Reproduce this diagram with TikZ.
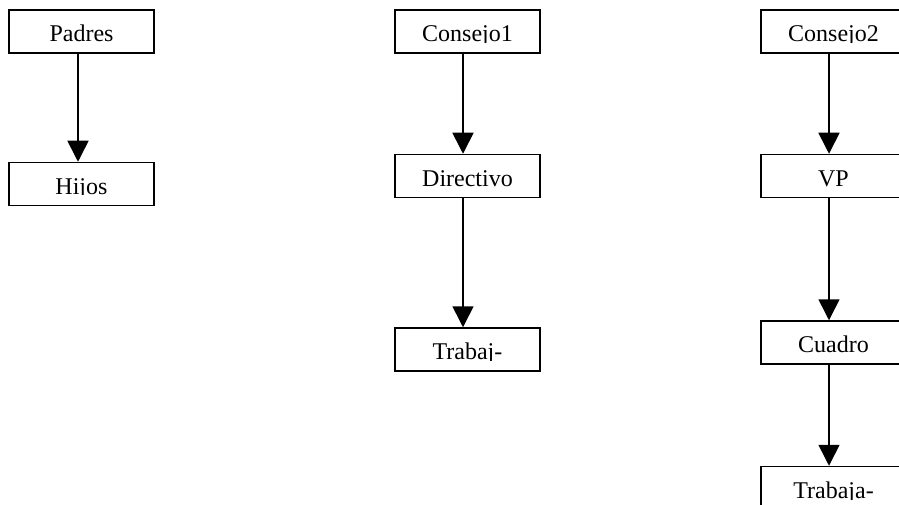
\documentclass[tikz,border=0pt]{standalone}
\usepackage{fontspec}
\setmainfont{Liberation Serif}
\usepackage{tikz}
\usetikzlibrary{positioning, arrows.meta}
\tikzset{flecha/.style={line width=1.6pt, -{Triangle[length=21pt, width=21pt]}}}

\begin{document}
\begin{tikzpicture}[
            x = 1pt, y = -1pt,
            caja/.style={draw, line width=1.5pt, minimum width=145pt, minimum height=43pt, inner sep=0pt,
                path picture={
                    \clip (path picture bounding box.north west) rectangle ([yshift=10.5pt]path picture bounding box.south east);
                    \node[anchor=base, inner sep=0pt, font=\fontsize{24}{28}\selectfont] at ([yshift=11.5pt]path picture bounding box.south) {#1};
                }}
        ]
            \useasboundingbox (0,0) rectangle (899,505);

            \node[caja=Padres] (padres) at (81.5,31.5) {};
            \node[caja=Hijos, below=108pt of padres] (hijos) {};

            \node[caja=Consejo1] (consejo1) at (467.5,31.5) {};
            \node[caja=Directivo, below=100pt of consejo1] (directivo) {};
            \node[caja=Trabaj-, below=129pt of directivo] (trabaj) {};

            \node[caja=Consejo2] (consejo2) at (833.5,31.5) {};
            \node[caja=VP, below=100pt of consejo2] (vp) {};
            \node[caja=Cuadro, below=122pt of vp] (cuadro) {};
            \node[caja=Trabaja-, below=101pt of cuadro] (trabaja) {};

            \draw[flecha] ([xshift=-3.5pt]padres.south) to ([xshift=-3.5pt]hijos.north);
            \draw[flecha] ([xshift=-4.5pt]consejo1.south) to ([xshift=-4.5pt]directivo.north);
            \draw[flecha] ([xshift=-4.5pt]directivo.south) to ([xshift=-4.5pt]trabaj.north);
            \draw[flecha] ([xshift=-4.5pt]consejo2.south) to ([xshift=-4.5pt]vp.north);
            \draw[flecha] ([xshift=-4.5pt]vp.south) to ([xshift=-4.5pt]cuadro.north);
            \draw[flecha] ([xshift=-4.5pt]cuadro.south) to ([xshift=-4.5pt]trabaja.north);
        \end{tikzpicture}
\end{document}
